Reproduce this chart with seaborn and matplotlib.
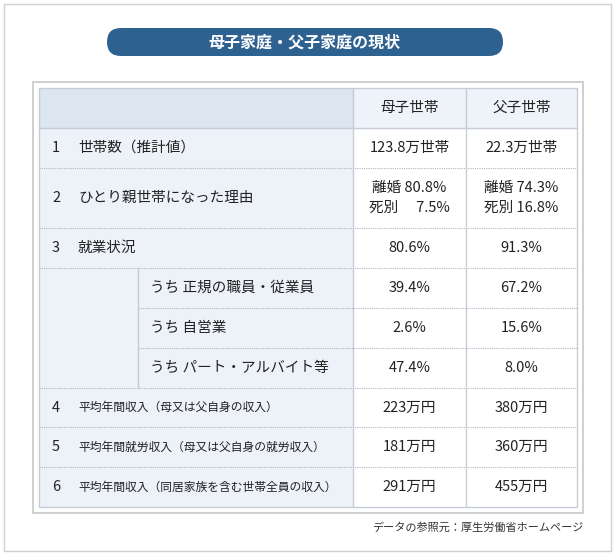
import matplotlib
matplotlib.use("Agg")
import matplotlib.pyplot as plt
from matplotlib.patches import Rectangle, FancyBboxPatch
import seaborn as sns

sns.set_theme(style="white")
plt.rcParams["font.family"] = "Noto Sans CJK JP"

title = "母子家庭・父子家庭の現状"
columns = ["母子世帯", "父子世帯"]
row_nums = ["1", "2", "3", "", "", "", "4", "5", "6"]
row_labels = ["世帯数（推計値）", "ひとり親世帯になった理由", "就業状況",
              "うち 正規の職員・従業員", "うち 自営業", "うち パート・アルバイト等",
              "平均年間収入（母又は父自身の収入）",
              "平均年間就労収入（母又は父自身の就労収入）",
              "平均年間収入（同居家族を含む世帯全員の収入）"]
mother_vals = ["123.8万世帯", "離婚 80.8%\n死別　 7.5%", "80.6%", "39.4%", "2.6%",
               "47.4%", "223万円", "181万円", "291万円"]
father_vals = ["22.3万世帯", "離婚 74.3%\n死別 16.8%", "91.3%", "67.2%", "15.6%",
               "8.0%", "380万円", "360万円", "455万円"]
source = "データの参照元：厚生労働省ホームページ"

W, H = 616, 556
fig = plt.figure(figsize=(W/100, H/100), dpi=100)
ax = fig.add_axes([0, 0, 1, 1])
ax.set_xlim(0, W); ax.set_ylim(H, 0); ax.axis("off")

ax.add_patch(Rectangle((4, 4), 607, 547, fill=False, ec="#d0d0d0", lw=1))
ax.add_patch(FancyBboxPatch((107, 28), 396, 28, boxstyle="round,pad=0,rounding_size=14",
                            fc="#2d6190", ec="none"))
ax.text(305, 42.5, title, color="white", ha="center", va="center", fontsize=11.5, fontweight="bold")
ax.add_patch(Rectangle((33, 82), 550, 431, fill=False, ec="#c8c8c8", lw=1.2))

L, C1, C2, R = 39, 353, 466, 577
tops = [88, 128, 168, 228, 268, 308, 348, 388, 427, 467]
bot = 507
grid = "#c5ccd6"
# header
ax.add_patch(Rectangle((L, 88), C1-L, 40, fc="#dbe6f1", ec="none"))
ax.add_patch(Rectangle((C1, 88), R-C1, 40, fc="#eef3f9", ec="none"))
ax.add_patch(Rectangle((L, 128), C1-L, bot-128, fc="#edf1f8", ec="none"))
for i, c in enumerate(columns):
    ax.text((C1+C2)/2 if i == 0 else (C2+R)/2, 108, c, ha="center", va="center", fontsize=10.5, color="#222")
ys = tops[1:] + [bot]
for i in range(9):
    y0, y1 = ys[i], ys[i+1] if i + 1 < len(ys) else bot
    yc = (y0 + y1) / 2
    small = i >= 6
    fs = 8.5 if small else 10.5
    if row_nums[i]:
        ax.text(52, yc, row_nums[i], ha="left", va="center", fontsize=10.5, color="#222")
        ax.text(78, yc, row_labels[i], ha="left", va="center", fontsize=fs, color="#222")
    else:
        ax.text(150, yc, row_labels[i], ha="left", va="center", fontsize=fs, color="#222")
    ax.text((C1+C2)/2, yc, mother_vals[i], ha="center", va="center", fontsize=10.5,
            color="#222", linespacing=1.5)
    ax.text((C2+R)/2, yc, father_vals[i], ha="center", va="center", fontsize=10.5,
            color="#222", linespacing=1.5)
# grid lines
ax.add_patch(Rectangle((L, 88), R-L, bot-88, fill=False, ec=grid, lw=1))
ax.plot([L, R], [128, 128], color=grid, lw=1)
for y in ys[1:-1]:
    x0 = 138 if y in (308, 348) else L
    ax.plot([x0, R], [y, y], color="#b0b6c0", lw=0.8, ls=(0, (1, 1)))
ax.plot([C1, C1], [88, bot], color=grid, lw=1)
ax.plot([C2, C2], [88, bot], color=grid, lw=1)
ax.plot([138, 138], [268, 388], color=grid, lw=1)
ax.text(583, 527, source, ha="right", va="center", fontsize=8, color="#333")

fig.savefig("out.png", dpi=100)
